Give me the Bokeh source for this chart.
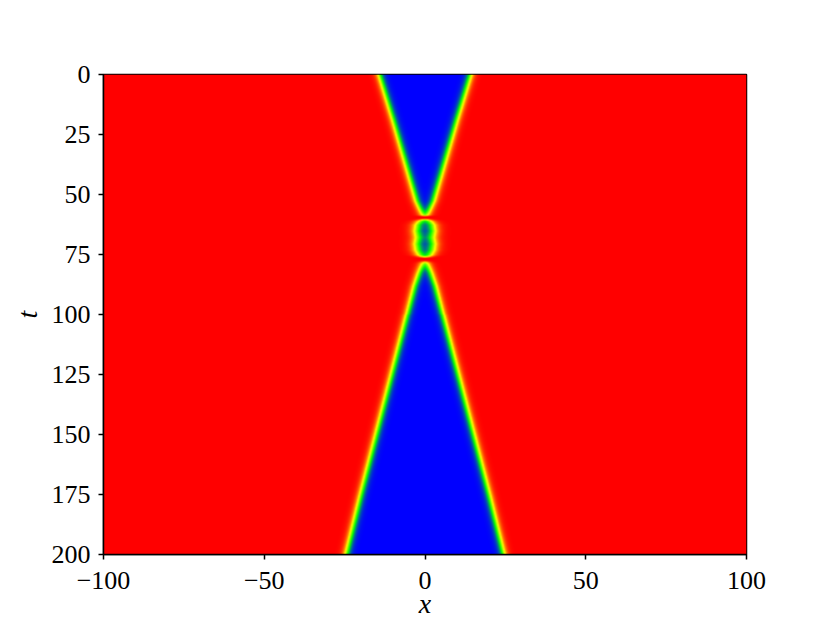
import numpy as np
from bokeh.plotting import figure
from bokeh.models import Range1d, FixedTicker, LinearColorMapper
from bokeh.embed import file_html
from bokeh.resources import INLINE

# ---- data ----
x_ticks = [-100, -50, 0, 50, 100]
x_tick_labels = ["\u2212100", "\u221250", "0", "50", "100"]
t_ticks = [0, 25, 50, 75, 100, 125, 150, 175, 200]
t_tick_labels = ["0", "25", "50", "75", "100", "125", "150", "175", "200"]

# kink / antikink half separation a(t) and kink width w(t)
knot_t = [0, 19.2, 52.5, 56.0, 58.3, 59.0, 59.8, 61.0, 62.5, 65.0, 67.7, 70.4,
          73.0, 75.0, 76.3, 77.3, 78.5, 82.5, 88.0, 100.8, 175.8, 200]
knot_half_sep = [14.3, 9.95, 2.8, 1.6, 0.8, 0.0, 0.0, 1.7, 2.5, 2.8, 2.4, 2.8,
                 2.5, 1.7, 0.0, 0.0, 0.8, 2.0, 3.4, 5.85, 20.2, 24.6]
knot_width = [1.35, 1.35, 1.4, 1.45, 1.5, 1.5, 1.8, 2.0, 2.05, 2.0, 2.1, 2.0,
              2.05, 2.0, 1.7, 1.5, 1.5, 1.45, 1.4, 1.35, 1.35, 1.35]

x_lo, x_hi = -100, 100
t_lo, t_hi = 0, 200

# ---- field on a grid ----
nx, nt = 644, 481
xs = np.linspace(x_lo, x_hi, nx)
ts = np.linspace(t_lo, t_hi, nt)
a = np.interp(ts, knot_t, knot_half_sep)[:, None]
w = np.interp(ts, knot_t, knot_width)[:, None]
X = xs[None, :]
phi = np.tanh((X + a) / w) - np.tanh((X - a) / w) - 1.0

# ---- colour map red -> yellow -> green -> blue ----
anchors = np.array([[255, 0, 0], [255, 255, 0], [0, 255, 0], [0, 0, 255]], float)
pos = np.linspace(0, 1, len(anchors))
s = np.linspace(0, 1, 256)
rgb = np.stack([np.interp(s, pos, anchors[:, k]) for k in range(3)], axis=1)
palette = ["#%02x%02x%02x" % tuple(int(round(c)) for c in row) for row in rgb]
mapper = LinearColorMapper(palette=palette, low=-1, high=1)

FONT = "Liberation Serif"

p = figure(width=830, height=623, output_backend="svg", toolbar_location=None,
           x_range=Range1d(x_lo, x_hi), y_range=Range1d(t_hi, t_lo),
           min_border_left=103, min_border_right=84, min_border_top=74,
           min_border_bottom=69)

p.image(image=[phi], x=x_lo, y=t_lo, dw=x_hi - x_lo, dh=t_hi - t_lo,
        color_mapper=mapper)

p.xgrid.visible = False
p.ygrid.visible = False
p.outline_line_color = "black"
p.outline_line_width = 1.5
p.background_fill_color = "white"
p.border_fill_color = "white"

for ax in (p.xaxis[0], p.yaxis[0]):
    ax.axis_line_color = "black"
    ax.axis_line_width = 1.5
    ax.major_tick_in = 0
    ax.major_tick_out = 5
    ax.major_tick_line_width = 1.5
    ax.minor_tick_line_color = None
    ax.major_label_text_font = FONT
    ax.major_label_text_font_size = "26px"
    ax.major_label_text_color = "black"
    ax.axis_label_text_font = FONT
    ax.axis_label_text_font_style = "italic"
    ax.axis_label_text_font_size = "28px"
    ax.axis_label_text_color = "black"

p.xaxis.ticker = FixedTicker(ticks=x_ticks)
p.xaxis.major_label_overrides = dict(zip(x_ticks, x_tick_labels))
p.yaxis.ticker = FixedTicker(ticks=t_ticks)
p.yaxis.major_label_overrides = dict(zip(t_ticks, t_tick_labels))
p.xaxis.axis_label = "x"
p.yaxis.axis_label = "t"
p.xaxis.major_label_standoff = 12
p.xaxis.axis_label_standoff = -4
p.yaxis.major_label_standoff = 8
p.yaxis.axis_label_standoff = 6
p.yaxis.major_label_orientation = "horizontal"

open("out.html", "w").write(file_html(p, INLINE))
